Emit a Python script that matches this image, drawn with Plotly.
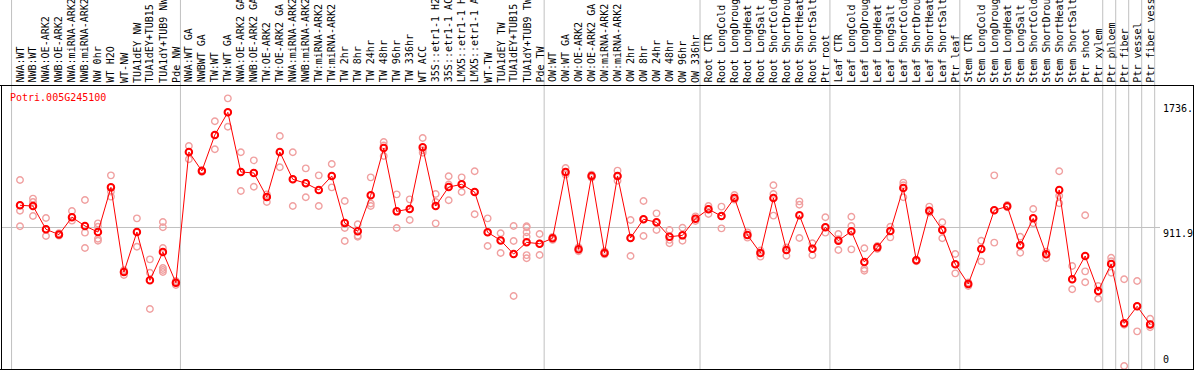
import plotly.graph_objects as go

# ---------------- data ----------------
categories = [
    "NWA:WT", "NWB:WT", "NWA:OE-ARK2", "NWB:OE-ARK2", "NWA:miRNA-ARK2", "NWB:miRNA-ARK2",
    "NW 0hr", "WT H2O", "WT-NW", "TUA1dEY NW", "TUA1dEY+TUB15", "TUA1dY+TUB9 NW", "Pde NW",
    "NWA:WT GA", "NWBWT GA", "TW:WT", "TW:WT GA", "NWA:OE-ARK2 GA", "NWB:OE-ARK2 GA",
    "TW:OE-ARK2", "TW:OE-ARK2 GA", "NWA:miRNA-ARK2", "NWB:miRNA-ARK2", "TW:miRNA-ARK2",
    "TW:miRNA-ARK2", "TW 2hr", "TW 8hr", "TW 24hr", "TW 48hr", "TW 96hr", "TW 336hr",
    "WT ACC", "35S::etr1-1 H2", "35S::etr1-1 AC", "LMX5::etr1-1 H", "LMX5::etr1-1 A",
    "WT-TW", "TUA1dEY TW", "TUA1dEY+TUB15", "TUA1dY+TUB9 TW", "Pde TW",
    "OW:WT", "OW:WT GA", "OW:OE-ARK2", "OW:OE-ARK2 GA", "OW:miRNA-ARK2", "OW:miRNA-ARK2",
    "OW 2hr", "OW 8hr", "OW 24hr", "OW 48hr", "OW 96hr", "OW 336hr",
    "Root CTR", "Root LongCold", "Root LongDroug", "Root LongHeat", "Root LongSalt",
    "Root ShortCold", "Root ShortDrou", "Root ShortHeat", "Root ShortSalt", "Ptr root",
    "Leaf CTR", "Leaf LongCold", "Leaf LongDroug", "Leaf LongHeat", "Leaf LongSalt",
    "Leaf ShortCold", "Leaf ShortDrou", "Leaf ShortHeat", "Leaf ShortSalt", "Ptr leaf",
    "Stem CTR", "Stem LongCold", "Stem LongDroug", "Stem LongHeat", "Stem LongSalt",
    "Stem ShortCold", "Stem ShortDrou", "Stem ShortHeat", "Stem ShortSalt", "Ptr shoot",
    "Ptr xylem", "Ptr phloem", "Ptr fiber", "Ptr vessel", "Ptr fiber vess",
]

means = [
    1058, 1053, 900, 865, 979, 922, 882, 1176, 619, 882, 564, 750, 548,
    1409, 1284, 1521, 1670, 1277, 1271, 1113, 1409, 1229, 1203, 1159, 1251,
    941, 887, 1124, 1435, 1018, 1034, 1440, 1053, 1178, 1196, 1145, 880, 827, 737, 814, 805,
    841, 1277, 768, 1251, 744, 1251, 843, 966, 946, 851, 860, 970,
    1032, 987, 1106, 862, 744, 1106, 764, 992, 772, 913,
    825, 887, 685, 781, 889, 1172, 696, 1022, 895, 670,
    540, 770, 1025, 1051, 795, 972, 735, 1159, 571, 724, 494,
    671, 281, 393, 274,
]

replicates = [
    [1224, 1058, 1022, 920], [1102, 1080, 987], [974, 900, 856], [875, 865, 858],
    [1020, 979, 957], [1093, 878, 777], [939, 917, 838, 825], [1255, 1148, 1115],
    [630, 619, 599], [972, 882, 785], [702, 614, 375], [948, 913, 777, 645, 632, 619],
    [560, 548, 533],
    [1448, 1409, 1361], [1290, 1284, 1278], [1611, 1521, 1427], [1762, 1670, 1575],
    [1407, 1277, 1152], [1354, 1271, 1180], [1130, 1113, 1080], [1514, 1409, 1308],
    [1407, 1229, 1053], [1301, 1203, 1111], [1255, 1159, 1053], [1330, 1251, 1176],
    [1086, 908, 823], [933, 887, 858, 851], [1242, 1070, 1053], [1475, 1452, 1382],
    [1130, 1018, 908], [1097, 1034, 961], [1501, 1420, 1404], [1132, 1080, 939],
    [1249, 1195, 1091], [1242, 1196, 1145], [1282, 1145, 999], [972, 880, 790],
    [874, 827, 744], [922, 823, 461], [920, 913, 880, 851, 730, 709], [869, 805, 731],
    [850, 841, 830], [1303, 1277, 1260], [782, 768, 755], [1260, 1251, 1240],
    [755, 744, 735], [1286, 1251, 1220], [961, 843, 724], [1086, 966, 856],
    [1005, 946, 895], [895, 830, 808], [910, 860, 825], [985, 970, 955],
    [1053, 1032, 1001], [1049, 987, 906], [1126, 1106, 1095], [880, 862, 845],
    [760, 744, 720], [1190, 1132, 990], [780, 764, 726], [1084, 1062, 843],
    [808, 772, 729], [979, 913, 878],
    [869, 835, 764], [983, 922, 768], [775, 640, 627], [790, 781, 770], [917, 889, 847],
    [1207, 1190, 1111], [700, 696, 690], [1049, 1022, 1010], [946, 895, 841],
    [737, 670, 610],
    [550, 540, 527], [825, 770, 689], [1255, 1025, 812], [1060, 1051, 1045],
    [851, 795, 746], [1034, 972, 940], [752, 735, 709], [1282, 1120, 1071],
    [658, 571, 505], [992, 623, 551], [527, 494, 443],
    [713, 690, 614], [571, 272, 0], [560, 393, 228], [311, 274, 255],
]

group_starts = [0, 13, 41, 53, 63, 73, 84, 85, 86, 87, 88]
gene_name = "Potri.005G245100"
tick_values = [1736.0, 911.9, 0.0]
tick_labels = ["1736.", "911.9", "0"]

# ---------------- geometry (pixel -> axis helpers) ----------------
W, H = 1194, 370
X0_PX, DX_PX = 20.0, 12.99      # pixel of first sample, pixel step
Y0_PX, DY_PX = 366.0, 0.1519    # pixel of value 0, pixels per unit


def xd(px):
    return (px - X0_PX) / DX_PX


def yd(py):
    return (Y0_PX - py) / DY_PX


FONT = "DejaVu Sans Mono"

fig = go.Figure()

rep_x = [i for i, reps in enumerate(replicates) for _ in reps]
rep_y = [v for reps in replicates for v in reps]

fig.add_trace(go.Scatter(
    x=rep_x, y=rep_y, mode="markers",
    marker=dict(symbol="circle-open", size=6.5, color="#f0a0a0", line=dict(width=1.4)),
    hoverinfo="skip", cliponaxis=False,
))
fig.add_trace(go.Scatter(
    x=list(range(len(means))), y=means, mode="lines+markers",
    line=dict(color="#ff0000", width=1),
    marker=dict(symbol="circle-open", size=6.5, color="#ff0000", line=dict(width=2)),
    cliponaxis=False,
))

shapes = []
# group separators
for s in group_starts:
    shapes.append(dict(type="line", xref="x", yref="y", x0=s - 0.65, x1=s - 0.65,
                       y0=yd(H), y1=yd(0), line=dict(color="#c0c0c0", width=1), layer="below"))
# mid horizontal line
shapes.append(dict(type="line", xref="x", yref="y", x0=xd(1), x1=xd(1160),
                   y0=tick_values[1], y1=tick_values[1],
                   line=dict(color="#c0c0c0", width=1), layer="below"))
# frame
black = dict(color="#000000", width=1)
shapes.append(dict(type="line", xref="x", yref="y", x0=xd(0), x1=xd(W),
                   y0=yd(85.5), y1=yd(85.5), line=black))
shapes.append(dict(type="line", xref="x", yref="y", x0=xd(0), x1=xd(W),
                   y0=yd(369.5), y1=yd(369.5), line=black))
shapes.append(dict(type="line", xref="x", yref="y", x0=xd(1.5), x1=xd(1.5),
                   y0=yd(85.5), y1=yd(369.5), line=black))
shapes.append(dict(type="line", xref="x", yref="y", x0=xd(1193.5), x1=xd(1193.5),
                   y0=yd(85.5), y1=yd(369.5), line=black))

annotations = []
for i, lab in enumerate(categories):
    annotations.append(dict(
        x=i, y=yd(83.5), xref="x", yref="y", text=lab, showarrow=False,
        textangle=-90, xanchor="center", yanchor="bottom", borderpad=0,
        font=dict(family=FONT, size=10, color="#000000"),
    ))
annotations.append(dict(
    x=xd(9), y=yd(97), xref="x", yref="y", text=gene_name, showarrow=False,
    xanchor="left", yanchor="middle", borderpad=0,
    font=dict(family=FONT, size=10, color="#ff0000"),
))
for v, t in zip(tick_values, tick_labels):
    annotations.append(dict(
        x=xd(1162), y=v, xref="x", yref="y", text=t, showarrow=False,
        xanchor="left", yanchor="bottom" if v == 0 else "top", borderpad=0,
        font=dict(family=FONT, size=10, color="#000000"),
    ))

fig.update_layout(
    width=W, height=H, autosize=False,
    margin=dict(l=0, r=0, t=0, b=0, pad=0),
    paper_bgcolor="#ffffff", plot_bgcolor="#ffffff",
    showlegend=False,
    xaxis=dict(range=[xd(0), xd(W)], visible=False, fixedrange=True),
    yaxis=dict(range=[yd(H), yd(0)], visible=False, fixedrange=True),
    shapes=shapes, annotations=annotations,
)

fig.write_html(
    "out.html",
    config={"displayModeBar": False},
    post_script="document.body.style.margin='0';document.body.style.overflow='hidden';",
)
